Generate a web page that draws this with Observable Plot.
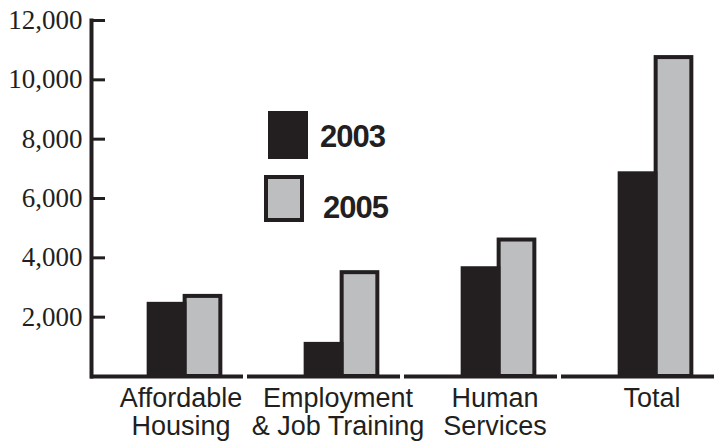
<!DOCTYPE html>
<html>
<head>
<meta charset="utf-8">
<script src="https://cdn.jsdelivr.net/npm/d3@7"></script>
<script src="https://cdn.jsdelivr.net/npm/@observablehq/plot@0.6"></script>
<style>
  html, body { margin: 0; padding: 0; background: #fff; }
  #wrap { position: relative; width: 715px; height: 447px; overflow: hidden; }
  .legend { position: absolute; left: 0; top: 0; }
  .sw { position: absolute; box-sizing: border-box; }
  .lt { position: absolute; font-family: "Liberation Sans", Arial, sans-serif; font-weight: 900; font-size: 31px; line-height: 1; color: #231f20; letter-spacing: -1px; }
</style>
</head>
<body>
<div id="wrap"></div>
<script>
// ---- data ----
const categories = ["Affordable\nHousing", "Employment\n& Job Training", "Human\nServices", "Total"];
const years = ["2003", "2005"];
const values2003 = [2500, 1150, 3700, 6900];
const values2005 = [2700, 3500, 4600, 10750];
const yTicks = [2000, 4000, 6000, 8000, 10000, 12000];

const rows = categories.map((c, i) => ({category: c, v2003: values2003[i], v2005: values2005[i]}));

// ---- layout ----
const W = 715, H = 447, mL = 90, mR = 0, mT = 20, mB = 71;
const pad = 0.025;
const innerW = W - mL - mR;
const step = innerW / (categories.length - pad);
const bw = step * (1 - pad);
const shift = 18;       // offset of bar pair from band centre
const dark = "#231f20", grey = "#bcbec0";

const chart = Plot.plot({
  width: W, height: H,
  marginLeft: mL, marginRight: mR, marginTop: mT, marginBottom: mB,
  style: {background: "#fff", overflow: "visible"},
  x: {domain: categories, paddingInner: pad, paddingOuter: 0, axis: null},
  y: {domain: [0, 12000], axis: null, label: null},
  marks: [
    Plot.barY(rows, {x: "category", y: "v2005", fill: grey, stroke: dark, strokeWidth: 4,
      insetLeft: bw / 2 + shift, insetRight: bw / 2 - shift - 36}),
    Plot.barY(rows, {x: "category", y: "v2003", fill: dark,
      insetLeft: bw / 2 + shift - 38, insetRight: bw / 2 - shift - 2}),
    Plot.tickY(categories, {x: d => d, y: () => 0, stroke: dark, strokeWidth: 4}),
    Plot.frame({anchor: "left", stroke: dark, strokeWidth: 4, dx: 1}),
    Plot.tickY(yTicks, {y: d => d, stroke: dark, strokeWidth: 3, insetRight: innerW - 15}),
    Plot.axisY(yTicks, {tickSize: 0, tickPadding: 8, label: null, fontSize: 27,
      fontFamily: "Liberation Serif, Times New Roman, serif", fill: dark}),
    Plot.axisX({tickSize: 0, tickPadding: 10, label: null, fontSize: 27, lineHeight: 1.05,
      fontFamily: "Liberation Sans, Arial, sans-serif", fill: dark, dx: 14})
  ]
});

const wrap = document.getElementById("wrap");
wrap.appendChild(chart);

// ---- legend (overlay) ----
const legend = document.createElement("div");
legend.className = "legend";
legend.innerHTML = `
  <div class="sw" style="left:268px;top:111px;width:40px;height:48px;background:${dark}"></div>
  <div class="lt" style="left:320px;top:121px">${years[0]}</div>
  <div class="sw" style="left:264px;top:175px;width:40px;height:47px;background:${grey};border:4px solid ${dark}"></div>
  <div class="lt" style="left:323px;top:192px">${years[1]}</div>`;
wrap.appendChild(legend);
</script>
</body>
</html>
